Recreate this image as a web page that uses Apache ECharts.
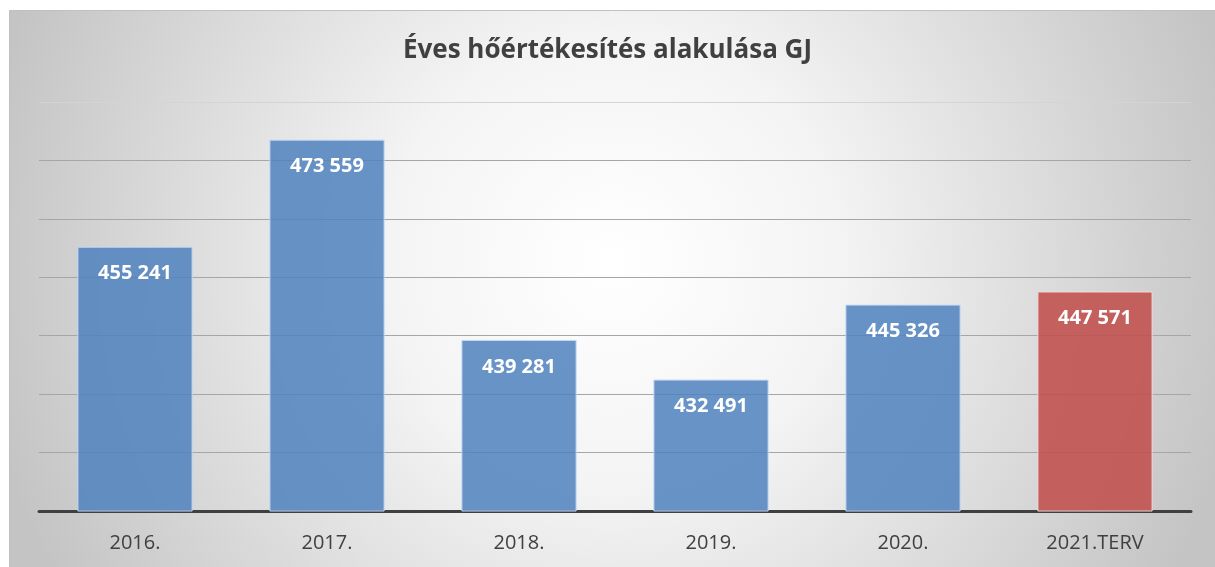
<!DOCTYPE html>
<html>
<head>
<meta charset="utf-8">
<script src="https://cdn.jsdelivr.net/npm/echarts@6/dist/echarts.min.js"></script>
<style>
  html, body { margin: 0; padding: 0; background: #ffffff; }
  #chart { width: 1215px; height: 567px; }
</style>
</head>
<body>
<div id="chart"></div>
<script>
var titleText = 'Éves hőértékesítés alakulása GJ';
var years = ['2016.', '2017.', '2018.', '2019.', '2020.', '2021.TERV'];
var values = [455241, 473559, 439281, 432491, 445326, 447571];
var isPlan = [false, false, false, false, false, true];

var fontFam = '"Open Sans", "Noto Sans", sans-serif';

function fmt(v) {
  return String(v).replace(/\B(?=(\d{3})+(?!\d))/g, ' ');
}

var chart = echarts.init(document.getElementById('chart'));

var option = {
  animation: false,
  graphic: [{
    type: 'rect',
    left: 9,
    top: 10,
    z: -10,
    shape: { width: 1206, height: 557 },
    style: {
      fill: {
        type: 'radial', x: 0.5, y: 0.45, r: 1.15,
        colorStops: [
          { offset: 0, color: '#ffffff' },
          { offset: 0.35, color: '#f4f4f4' },
          { offset: 1, color: '#c4c4c4' }
        ]
      },
      stroke: '#c0c0c0',
      lineWidth: 1
    }
  }],
  title: {
    text: titleText,
    left: 'center',
    top: 33,
    textStyle: {
      fontFamily: fontFam,
      fontSize: 26,
      fontWeight: 'bold',
      color: '#404040'
    }
  },
  grid: { left: 39, right: 24, top: 102, bottom: 56 },
  xAxis: {
    type: 'category',
    data: years,
    axisLine: { lineStyle: { color: '#404040', width: 3 } },
    axisTick: { show: false },
    axisLabel: {
      margin: 22,
      fontFamily: fontFam,
      fontSize: 20,
      color: '#404040'
    }
  },
  yAxis: {
    type: 'value',
    min: 410000,
    max: 480000,
    interval: 10000,
    axisLabel: { show: false },
    axisLine: { show: false },
    axisTick: { show: false },
    splitLine: {
      lineStyle: {
        color: ['#a6a6a6', '#a6a6a6', '#a6a6a6', '#a6a6a6', '#a6a6a6', '#a6a6a6', '#a6a6a6', '#d4d4d4'],
        width: 1
      }
    }
  },
  series: [{
    type: 'bar',
    barWidth: '60%',
    data: values.map(function (v, i) {
      return {
        value: v,
        itemStyle: isPlan[i]
          ? { color: 'rgba(192,80,77,0.88)', borderColor: '#f2dcdb', borderWidth: 1 }
          : { color: 'rgba(79,129,189,0.85)', borderColor: '#c6d9f1', borderWidth: 1 }
      };
    }),
    label: {
      show: true,
      position: 'insideTop',
      distance: 17,
      formatter: function (p) { return fmt(p.value); },
      fontFamily: fontFam,
      fontSize: 20,
      fontWeight: 'bold',
      color: '#ffffff'
    }
  }]
};

chart.setOption(option);
</script>
</body>
</html>
